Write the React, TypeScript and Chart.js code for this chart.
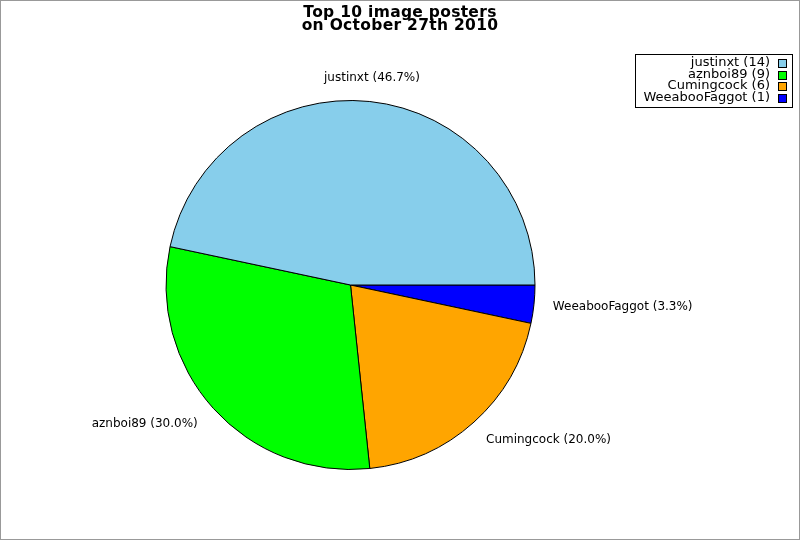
import React, { useEffect, useRef } from "react";
import { Chart, registerables } from "chart.js";

Chart.register(...registerables);

const TITLE_LINES = ["Top 10 image posters", "on October 27th 2010"];
const NAMES = ["justinxt", "aznboi89", "Cumingcock", "WeeabooFaggot"];
const COUNTS = [14, 9, 6, 1];
const COLORS = ["#87CEEB", "#00FF00", "#FFA500", "#0000FF"];

const FONT = '"DejaVu Sans", sans-serif';

const decorPlugin = {
  id: "decor",
  afterDraw(chart: any) {
    const ctx: CanvasRenderingContext2D = chart.ctx;
    const W = chart.width;
    const H = chart.height;
    const total = COUNTS.reduce((a, b) => a + b, 0);
    ctx.save();

    // outer border
    ctx.strokeStyle = "#999999";
    ctx.lineWidth = 1;
    ctx.strokeRect(0.5, 0.5, W - 1, H - 1);

    // title
    ctx.fillStyle = "#000";
    ctx.font = `bold 15.5px ${FONT}`;
    (ctx as any).letterSpacing = "0.3px";
    ctx.textAlign = "center";
    ctx.textBaseline = "alphabetic";
    ctx.fillText(TITLE_LINES[0], W / 2, 16.5);
    ctx.fillText(TITLE_LINES[1], W / 2, 29.5);
    (ctx as any).letterSpacing = "0px";

    // slice labels
    const meta = chart.getDatasetMeta(0);
    const labels: string[] = chart.data.labels;
    const values: number[] = chart.data.datasets[0].data;
    ctx.font = `12px ${FONT}`;
    ctx.textBaseline = "middle";
    meta.data.forEach((arc: any, i: number) => {
      const p = arc.getProps(["x", "y", "startAngle", "endAngle", "outerRadius"], true);
      const mid = (p.startAngle + p.endAngle) / 2;
      const rx = p.outerRadius + 21;
      const ry = p.outerRadius + 23.5;
      const c = Math.cos(mid);
      const px = p.x + c * rx - (c > 0.3 ? 2 : 0);
      const py = p.y + Math.sin(mid) * ry;
      ctx.textAlign = Math.abs(c) < 0.3 ? "center" : c > 0 ? "left" : "right";
      const pct = ((values[i] / total) * 100).toFixed(1);
      ctx.fillText(`${labels[i]} (${pct}%)`, px, py);
    });

    // legend
    ctx.font = `13px ${FONT}`;
    const texts = NAMES.map((n, i) => `${n} (${COUNTS[i]})`);
    const maxW = Math.max(...texts.map((t) => ctx.measureText(t).width));
    const textRight = 770;
    const rowH = 11.5;
    const firstY = 63;
    const boxLeft = Math.round(textRight - maxW - 8) + 0.5;
    const boxTop = 54.5;
    const boxRight = 792.5;
    const boxBottom = firstY + rowH * (NAMES.length - 1) + 9.5;
    ctx.fillStyle = "#fff";
    ctx.fillRect(boxLeft, boxTop, boxRight - boxLeft, boxBottom - boxTop);
    ctx.strokeStyle = "#000";
    ctx.strokeRect(boxLeft, boxTop, boxRight - boxLeft, Math.round(boxBottom - boxTop));
    ctx.textAlign = "right";
    ctx.textBaseline = "middle";
    texts.forEach((t, i) => {
      const y = firstY + rowH * i;
      ctx.fillStyle = "#000";
      ctx.fillText(t, textRight, y);
      ctx.fillStyle = COLORS[i];
      const sy = Math.round(y - 4) + 0.5;
      ctx.fillRect(778.5, sy, 8, 8);
      ctx.strokeStyle = "#000";
      ctx.strokeRect(778.5, sy, 8, 8);
    });

    ctx.restore();
  },
};

export default function App() {
  const ref = useRef<HTMLCanvasElement | null>(null);

  useEffect(() => {
    if (!ref.current) return;
    // clockwise drawing from 3 o'clock, so reverse to mimic counter-clockwise order
    const labels = [...NAMES].reverse();
    const data = [...COUNTS].reverse();
    const colors = [...COLORS].reverse();
    const chart = new Chart(ref.current, {
      type: "pie",
      data: {
        labels,
        datasets: [
          {
            data,
            backgroundColor: colors,
            borderColor: "#000",
            borderWidth: 1,
          },
        ],
      },
      options: {
        responsive: false,
        animation: false,
        rotation: 90,
        layout: {
          padding: { left: 165.5, right: 264.5, top: 100, bottom: 70 },
        },
        plugins: {
          legend: { display: false },
          title: { display: false },
          tooltip: { enabled: false },
        },
      },
      plugins: [decorPlugin],
    } as any);
    return () => chart.destroy();
  }, []);

  return (
    <div style={{ position: "fixed", left: 0, top: 0, width: 800, height: 540, background: "#fff" }}>
      <canvas ref={ref} width={800} height={540} style={{ width: 800, height: 540, display: "block" }} />
    </div>
  );
}
